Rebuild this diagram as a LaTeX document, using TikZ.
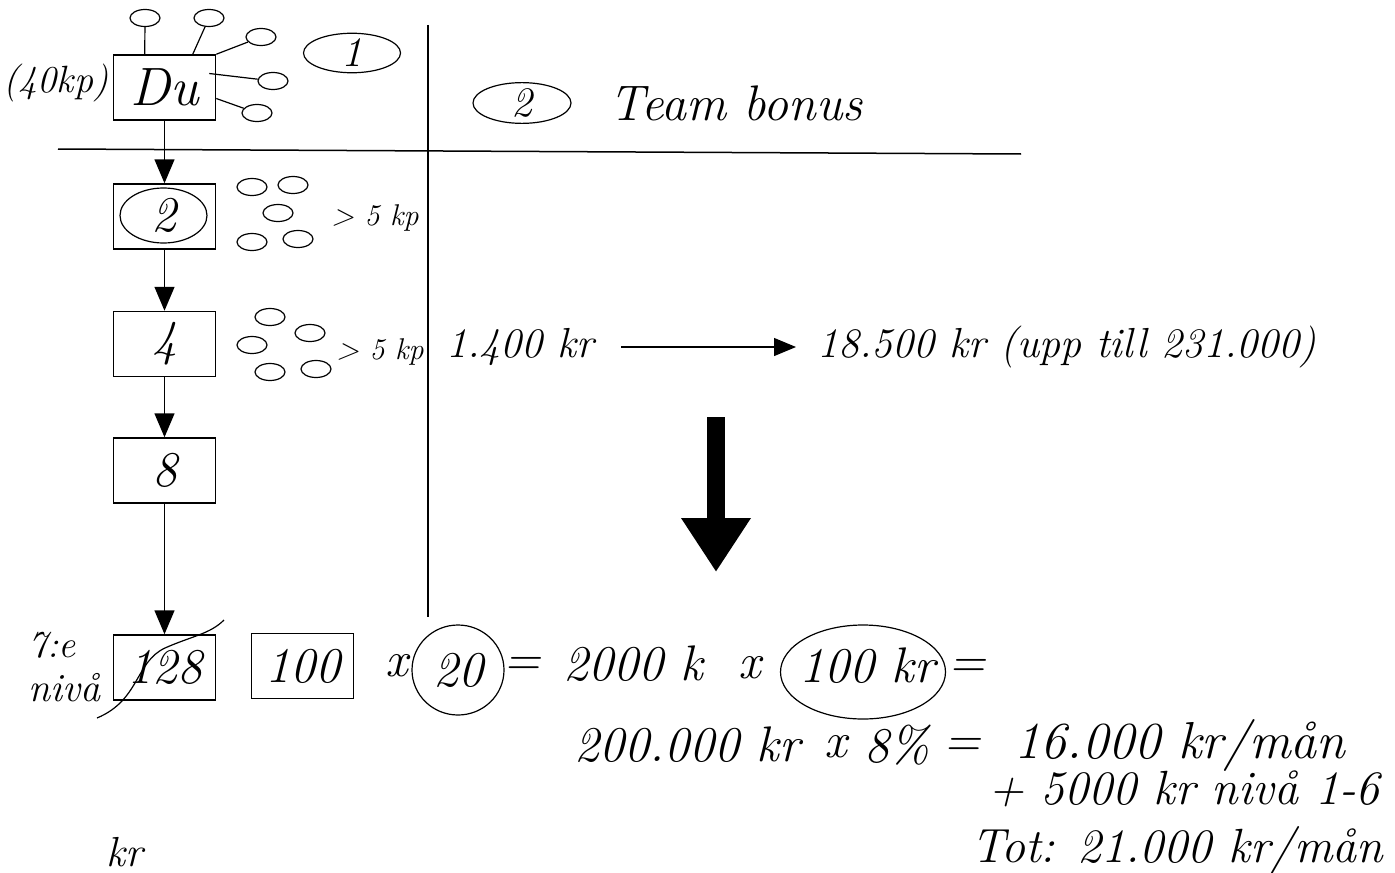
\documentclass[tikz,border=0pt]{standalone}
\usetikzlibrary{arrows.meta,shapes.geometric}
\newcommand{\hand}{\fontsize{21}{24}\selectfont\itshape}
\newcommand{\handbig}{\fontsize{25}{28}\selectfont\itshape}
\tikzset{
  lvl/.style={draw, line width=0.75pt, minimum width=51pt, minimum height=32.5pt, inner sep=0pt, font=\handbig},
  bub/.style={draw, ellipse, line width=0.6pt, minimum width=15pt, minimum height=8.5pt, inner sep=0pt},
  ring/.style={draw, ellipse, line width=0.6pt, inner sep=0pt, font=\handbig},
  txt/.style={font=\hand, inner sep=0pt},
  down/.style={-{Triangle[length=12pt,width=10pt]}, line width=0.75pt},
}
\begin{document}
\begin{tikzpicture}[x=0.5pt, y=-0.5pt]
	\useasboundingbox (0,0) rectangle (1395,872);
	% Level boxes:
	\node[lvl, font=\fontsize{27}{30}\selectfont\itshape] (du) at (164.5,87.5) {Du};
	\node[lvl] (l2) at (164.5,216.5) {};
	\node[ring, minimum width=43.5pt, minimum height=27.5pt] (r2) at (163.5,215.5) {2};
	\node[lvl] (l4) at (164.5,344) {4};
	\node[lvl] (l8) at (164.5,470.5) {8};
	\node[lvl] (l128) at (164.5,667.5) {128};
	\node[lvl] (l100) at (302.5,666) {100};
	\draw[down] (du) -- (l2);
	\draw[down] (l2) -- (l4);
	\draw[down] (l4) -- (l8);
	\draw[down] (l8) -- (l128);
	\draw[line width=0.6pt] (97,718) .. controls (140,700) and (135,662) .. (165,648) .. controls (192,636) and (210,634) .. (224,620);
	% Bubbles round Du:
	\node[bub] (d1) at (145,18) {};
	\node[bub] (d2) at (209,18) {};
	\node[bub] (d3) at (261,37) {};
	\node[bub] (d4) at (273,81) {};
	\node[bub] (d5) at (257,113) {};
	\draw[line width=0.6pt] (du.north west) ++(32,0) -- (d1);
	\draw[line width=0.6pt] (du.north west) ++(80,0) -- (d2);
	\draw[line width=0.6pt] (du.north east) -- (d3);
	\draw[line width=0.6pt] (du.east) ++(-7,-14) -- (d4);
	\draw[line width=0.6pt] (du.east) ++(0,11) -- (d5);
	\node[txt, font=\fontsize{19}{22}\selectfont\itshape] (kp40) at (56,83) {(40kp)};
	\node[ring, minimum width=48.5pt, minimum height=18.5pt, font=\hand] (c1) at (352,53) {1};
	% Bubbles at level 2 and 4:
	\node[bub] (a1) at (252,187) {};
	\node[bub] (a2) at (293,185) {};
	\node[bub] (a3) at (278,213) {};
	\node[bub] (a4) at (252,242) {};
	\node[bub] (a5) at (298,239) {};
	\node[txt, font=\fontsize{15}{17}\selectfont\itshape] (kp2) at (375,218) {> 5 kp};
	\node[bub] (b1) at (270,317) {};
	\node[bub] (b2) at (310,333) {};
	\node[bub] (b3) at (252,345) {};
	\node[bub] (b4) at (270,372) {};
	\node[bub] (b5) at (316,369) {};
	\node[txt, font=\fontsize{15}{17}\selectfont\itshape] (kp4) at (380,352) {> 5 kp};
	% Dividers:
	\coordinate (vtop) at (428,25);
	\coordinate (vbot) at (428,617);
	\coordinate (hl) at (58,149);
	\coordinate (hr) at (1021,154);
	\draw[line width=0.75pt] (vtop) -- (vbot);
	\draw[line width=0.75pt] (hl) -- (hr);
	% Team bonus:
	\node[ring, minimum width=49pt, minimum height=20pt, font=\hand] (c2) at (522,103) {2};
	\node[txt, font=\fontsize{25}{28}\selectfont\itshape] (team) at (736,103) {Team bonus};
	\node[txt] (k1400) at (520,347) {1.400 kr};
	\node[txt] (k18500) at (1067,347) {18.500 kr (upp till 231.000)};
	\coordinate (ha) at (621,347);
	\coordinate (hb) at (796,347);
	\draw[-{Triangle[length=11pt,width=9pt]}, line width=0.6pt] (ha) -- (hb);
	\coordinate (bigtop) at (716,417);
	\coordinate (bigtip) at (716,572);
	\draw[line width=9pt, -{Triangle[length=27pt,width=33pt]}] (bigtop) -- (bigtip);
	% Calculation:
	\node[txt, font=\fontsize{19}{21}\selectfont\itshape, anchor=west] (e1) at (28,645) {7:e};
	\node[txt, font=\fontsize{20}{22}\selectfont\itshape, anchor=west] (e2) at (28,688) {nivå};
	\node[txt, font=\handbig] (x1) at (397,666) {x};
	\node[ring, minimum width=46pt, minimum height=45pt] (c20) at (458,670) {20};
	\node[txt, font=\handbig] (q1) at (522,666) {=};
	\node[txt, font=\handbig] (k2000) at (633,664) {2000 k};
	\node[txt, font=\handbig] (x2) at (750,668) {x};
	\node[ring, minimum width=82.5pt, minimum height=47pt] (c100) at (863,672) {};
	\node[txt, font=\handbig] (t100) at (867,666) {100 kr};
	\node[txt, font=\handbig] (q2) at (967,668) {=};
	\node[txt, font=\fontsize{25}{28}\selectfont\itshape] (k200) at (687,745) {200.000 kr};
	\node[txt, font=\handbig] (x3) at (836,747) {x};
	\node[txt, font=\handbig] (p8) at (897,745) {8\%};
	\node[txt, font=\handbig] (q3) at (962,747) {=};
	\node[txt, font=\fontsize{26}{29}\selectfont\itshape] (k16) at (1180,745) {16.000 kr/mån};
	\node[txt, font=\fontsize{24}{27}\selectfont\itshape] (k5000) at (1184,789) {+ 5000 kr nivå 1-6};
	\node[txt, font=\fontsize{24}{27}\selectfont\itshape, anchor=base] (tot) at (1177,862) {Tot: 21.000 kr/mån};
	\node[txt] (kr) at (125,852) {kr};
\end{tikzpicture}
\end{document}
